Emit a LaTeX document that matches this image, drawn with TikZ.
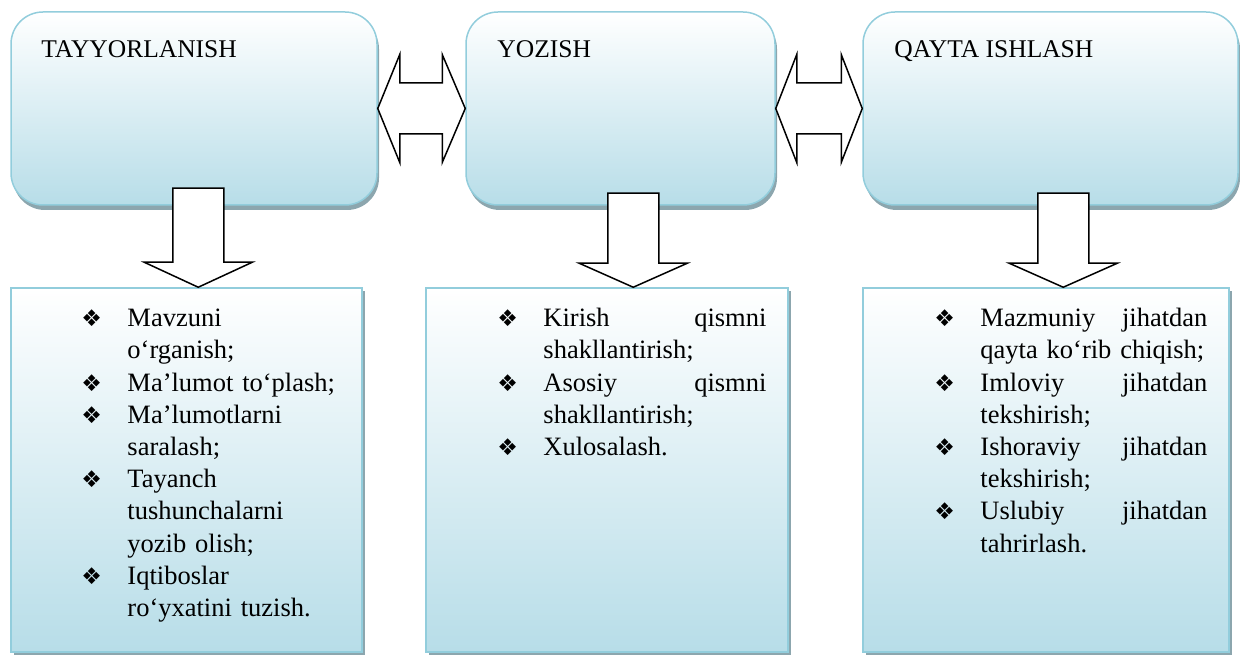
\documentclass[tikz,border=0pt]{standalone}
\usepackage{fontspec}
\setmainfont{Liberation Serif}
\newfontfamily\dingf{DejaVu Sans}
\usetikzlibrary{calc,shadows}

\definecolor{cajaazul}{RGB}{183,221,232}
\definecolor{bordeazul}{RGB}{146,205,220}
\definecolor{sombra}{RGB}{140,166,174}

\newlength{\bulw}
\setlength{\bulw}{46pt}
\newcommand{\punkt}[1]{\par\hangindent=\bulw\hangafter=1\noindent\makebox[\bulw][l]{\raisebox{0pt}{\dingf\fontsize{23}{23}\selectfont ❖}}#1\par}

\tikzset{
  etapa/.style={draw=bordeazul, line width=1.5pt, rounded corners=32pt,
    top color=white, bottom color=cajaazul, minimum height=193pt,
    drop shadow={shadow xshift=2pt, shadow yshift=-5pt, fill=sombra, opacity=1}},
  lista/.style={draw=bordeazul, line width=1.5pt,
    top color=white, bottom color=cajaazul, minimum height=364pt,
    drop shadow={shadow xshift=3pt, shadow yshift=-3pt, fill=sombra, opacity=1}},
  titulo/.style={anchor=base west, inner sep=0pt, font=\fontsize{25.5}{30}\selectfont},
  texto/.style={anchor=north west, inner sep=0pt, font=\fontsize{26.5}{32.2}\selectfont},
  flecha/.style={draw=black, fill=white, line width=1.5pt, line join=miter}
}

\begin{document}
\begin{tikzpicture}[x=1pt, y=-1pt]
            \useasboundingbox (0,0) rectangle (1240,655);

            % Cajas de arriba
            \node[etapa, minimum width=366pt] (t1) at (194,108.5) {};
            \node[etapa, minimum width=309pt] (t2) at (620.5,108.5) {};
            \node[etapa, minimum width=375pt] (t3) at (1050.5,108.5) {};

            \node[titulo] (t1txt) at ($(t1.north west)+(31,46)$) {TAYYORLANISH};
            \node[titulo] (t2txt) at ($(t2.north west)+(32,46)$) {YOZISH};
            \node[titulo] (t3txt) at ($(t3.north west)+(32,46)$) {QAYTA ISHLASH};

            % Cajas de abajo
            \node[lista, minimum width=351pt] (b1) at (186.5,470) {};
            \node[lista, minimum width=362pt] (b2) at (607,470) {};
            \node[lista, minimum width=366pt] (b3) at (1046,470) {};

            % Listas
            \node[texto, text width=266pt] (b1txt) at ($(b1.north west)+(71,7)$) {%
              \punkt{Mavzuni\newline o‘rganish;}
              \punkt{Ma’lumot to‘plash;}
              \punkt{Ma’lumotlarni\newline saralash;}
              \punkt{Tayanch\newline tushunchalarni\newline yozib olish;}
              \punkt{Iqtiboslar\newline ro‘yxatini tuzish.}};
            \node[texto, text width=269pt] (b2txt) at ($(b2.north west)+(72,7)$) {%
              \punkt{Kirish\hfill qismni\newline shakllantirish;}
              \punkt{Asosiy\hfill qismni\newline shakllantirish;}
              \punkt{Xulosalash.}};
            \node[texto, text width=273pt] (b3txt) at ($(b3.north west)+(72,7)$) {%
              \punkt{Mazmuniy\hfill jihatdan\newline qayta ko‘rib chiqish;}
              \punkt{Imloviy\hfill jihatdan\newline tekshirish;}
              \punkt{Ishoraviy\hfill jihatdan\newline tekshirish;}
              \punkt{Uslubiy\hfill jihatdan\newline tahrirlash.}};

            % Flechas dobles
            \draw[flecha] (t1.east) -- ++(22,-54) -- ++(0,28.5) -- ($(t2.west)+(-23,-25.5)$) -- ++(0,-28.5)
              -- (t2.west) -- ++(-23,54) -- ++(0,-28.5) -- ($(t1.east)+(22,25.5)$) -- ++(0,28.5) -- cycle;
            \draw[flecha] (t2.east) -- ++(21,-54) -- ++(0,28.5) -- ($(t3.west)+(-21,-25.5)$) -- ++(0,-28.5)
              -- (t3.west) -- ++(-21,54) -- ++(0,-28.5) -- ($(t2.east)+(21,25.5)$) -- ++(0,28.5) -- cycle;

            % Flechas hacia abajo
            \coordinate (d1) at ($(b1.north west)+(188,0)$);
            \coordinate (d2) at ($(b2.north west)+(208,0)$);
            \coordinate (d3) at ($(b3.north west)+(201,0)$);
            \draw[flecha] (d1) -- ++(-54,-25) -- ++(28.5,0) -- ++(0,-74) -- ++(51,0) -- ++(0,74) -- ++(28.5,0) -- cycle;
            \draw[flecha] (d2) -- ++(-54,-24) -- ++(28.5,0) -- ++(0,-70) -- ++(51,0) -- ++(0,70) -- ++(28.5,0) -- cycle;
            \draw[flecha] (d3) -- ++(-54,-24) -- ++(28.5,0) -- ++(0,-70) -- ++(51,0) -- ++(0,70) -- ++(28.5,0) -- cycle;
        \end{tikzpicture}
\end{document}
